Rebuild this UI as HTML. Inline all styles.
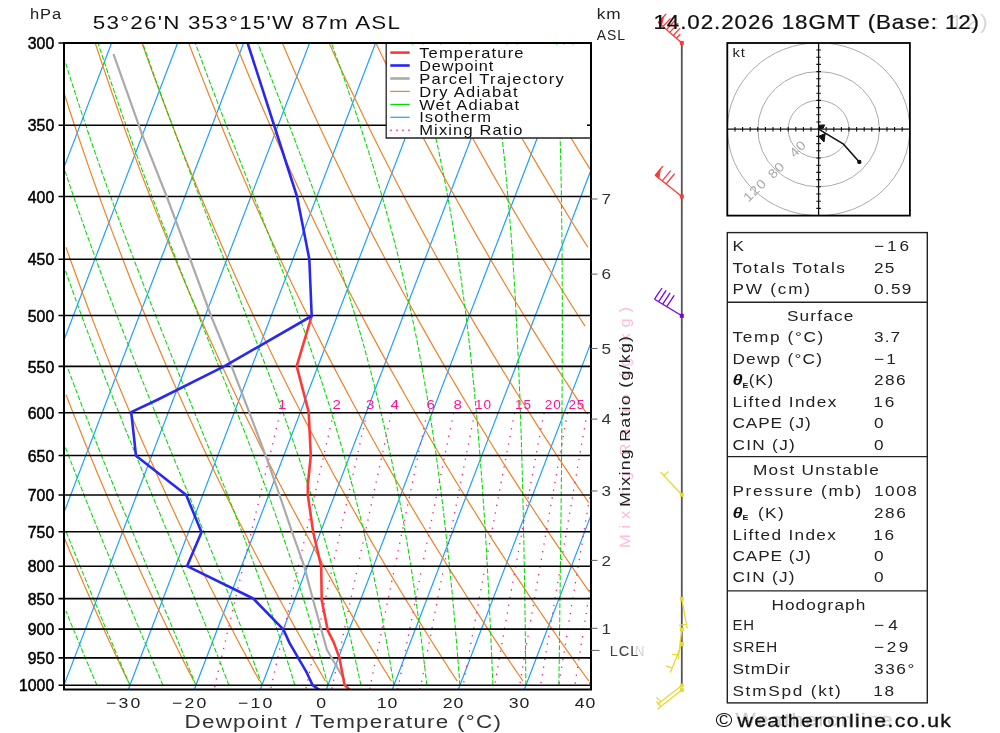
<!DOCTYPE html>
<html><head><meta charset="utf-8"><title>Skew-T</title>
<style>html,body{margin:0;padding:0;background:#fff}svg{display:block;will-change:transform}</style></head>
<body>
<svg width="1000" height="733" viewBox="0 0 1000 733" font-family="'Liberation Sans', sans-serif">
<rect width="1000" height="733" fill="#fff"/>
<defs><clipPath id="cp"><rect x="64.0" y="43.0" width="527.0" height="646.5"/></clipPath></defs>
<g clip-path="url(#cp)">
<polyline points="-135.7,689.5 111.6,43.0" fill="none" stroke="#1e9fff" stroke-width="1.2" />
<polyline points="-69.7,689.5 177.6,43.0" fill="none" stroke="#1e9fff" stroke-width="1.2" />
<polyline points="-3.7,689.5 243.6,43.0" fill="none" stroke="#1e9fff" stroke-width="1.2" />
<polyline points="62.3,689.5 309.6,43.0" fill="none" stroke="#1e9fff" stroke-width="1.2" />
<polyline points="128.3,689.5 375.6,43.0" fill="none" stroke="#1e9fff" stroke-width="1.2" />
<polyline points="194.3,689.5 441.6,43.0" fill="none" stroke="#1e9fff" stroke-width="1.2" />
<polyline points="260.3,689.5 507.6,43.0" fill="none" stroke="#1e9fff" stroke-width="1.2" />
<polyline points="326.3,689.5 573.6,43.0" fill="none" stroke="#1e9fff" stroke-width="1.2" />
<polyline points="392.3,689.5 639.6,43.0" fill="none" stroke="#1e9fff" stroke-width="1.2" />
<polyline points="458.3,689.5 705.6,43.0" fill="none" stroke="#1e9fff" stroke-width="1.2" />
<polyline points="524.3,689.5 771.6,43.0" fill="none" stroke="#1e9fff" stroke-width="1.2" />
<polyline points="590.3,689.5 837.6,43.0" fill="none" stroke="#1e9fff" stroke-width="1.2" />
<polyline points="127.9,681.0 127.4,679.9 124.8,674.5 122.2,669.1 119.6,663.5 117.0,657.9 114.4,652.3 111.8,646.6 109.1,640.8 106.4,635.0 103.8,629.1 101.1,623.1 98.4,617.1 95.7,611.0 92.9,604.8 90.2,598.6 87.4,592.3 84.6,585.9 81.9,579.4 79.0,572.9 76.2,566.3 73.4,559.5 70.5,552.7 67.7,545.9 64.8,538.9" fill="none" stroke="#f08228" stroke-width="1.2" />
<polyline points="193.7,681.0 193.2,679.9 190.4,674.5 187.6,669.1 184.8,663.5 182.0,657.9 179.2,652.3 176.4,646.6 173.5,640.8 170.7,635.0 167.8,629.1 164.9,623.1 162.0,617.1 159.1,611.0 156.1,604.8 153.2,598.6 150.2,592.3 147.2,585.9 144.2,579.4 141.2,572.9 138.1,566.3 135.1,559.5 132.0,552.7 128.9,545.9 125.8,538.9 122.6,531.8 119.5,524.7 116.3,517.4 113.1,510.0 109.9,502.6 106.7,495.0 103.4,487.3 100.1,479.6 96.8,471.7 93.5,463.6 90.1,455.5 86.8,447.2 83.4,438.8 80.0,430.3 76.5,421.6 73.0,412.8 69.5,403.8 66.0,394.7" fill="none" stroke="#f08228" stroke-width="1.2" />
<polyline points="259.6,681.0 259.0,679.9 256.0,674.5 253.1,669.1 250.1,663.5 247.1,657.9 244.1,652.3 241.0,646.6 238.0,640.8 234.9,635.0 231.9,629.1 228.8,623.1 225.6,617.1 222.5,611.0 219.4,604.8 216.2,598.6 213.0,592.3 209.8,585.9 206.6,579.4 203.3,572.9 200.1,566.3 196.8,559.5 193.5,552.7 190.1,545.9 186.8,538.9 183.4,531.8 180.0,524.7 176.6,517.4 173.2,510.0 169.7,502.6 166.3,495.0 162.8,487.3 159.2,479.6 155.7,471.7 152.1,463.6 148.5,455.5 144.9,447.2 141.2,438.8 137.5,430.3 133.8,421.6 130.1,412.8 126.3,403.8 122.5,394.7 118.7,385.4 114.8,376.0 110.9,366.4 107.0,356.6 103.1,346.6 99.1,336.4 95.1,326.1 91.0,315.5 86.9,304.7 82.8,293.7 78.7,282.5 74.5,271.0 70.2,259.3 66.0,247.3" fill="none" stroke="#f08228" stroke-width="1.2" />
<polyline points="325.4,681.0 324.8,679.9 321.6,674.5 318.5,669.1 315.3,663.5 312.1,657.9 308.9,652.3 305.7,646.6 302.4,640.8 299.2,635.0 295.9,629.1 292.6,623.1 289.3,617.1 285.9,611.0 282.6,604.8 279.2,598.6 275.8,592.3 272.4,585.9 268.9,579.4 265.5,572.9 262.0,566.3 258.5,559.5 254.9,552.7 251.4,545.9 247.8,538.9 244.2,531.8 240.6,524.7 236.9,517.4 233.3,510.0 229.6,502.6 225.9,495.0 222.1,487.3 218.3,479.6 214.5,471.7 210.7,463.6 206.8,455.5 202.9,447.2 199.0,438.8 195.1,430.3 191.1,421.6 187.1,412.8 183.1,403.8 179.0,394.7 174.9,385.4 170.7,376.0 166.6,366.4 162.4,356.6 158.1,346.6 153.8,336.4 149.5,326.1 145.2,315.5 140.8,304.7 136.3,293.7 131.8,282.5 127.3,271.0 122.8,259.3 118.2,247.3 113.5,235.1 108.8,222.5 104.1,209.6 99.3,196.5 94.4,183.0 89.5,169.1 84.6,154.9 79.6,140.3 74.5,125.2 69.4,109.8 64.3,93.8" fill="none" stroke="#f08228" stroke-width="1.2" />
<polyline points="391.3,681.0 390.6,679.9 387.3,674.5 383.9,669.1 380.5,663.5 377.2,657.9 373.8,652.3 370.3,646.6 366.9,640.8 363.4,635.0 359.9,629.1 356.4,623.1 352.9,617.1 349.4,611.0 345.8,604.8 342.2,598.6 338.6,592.3 334.9,585.9 331.3,579.4 327.6,572.9 323.9,566.3 320.2,559.5 316.4,552.7 312.6,545.9 308.8,538.9 305.0,531.8 301.2,524.7 297.3,517.4 293.4,510.0 289.4,502.6 285.5,495.0 281.5,487.3 277.4,479.6 273.4,471.7 269.3,463.6 265.2,455.5 261.0,447.2 256.9,438.8 252.7,430.3 248.4,421.6 244.1,412.8 239.8,403.8 235.5,394.7 231.1,385.4 226.7,376.0 222.2,366.4 217.7,356.6 213.2,346.6 208.6,336.4 204.0,326.1 199.3,315.5 194.6,304.7 189.8,293.7 185.0,282.5 180.2,271.0 175.3,259.3 170.3,247.3 165.4,235.1 160.3,222.5 155.2,209.6 150.1,196.5 144.9,183.0 139.6,169.1 134.3,154.9 128.9,140.3 123.4,125.2 117.9,109.8 112.3,93.8 106.7,77.4 101.0,60.5 95.2,43.0" fill="none" stroke="#f08228" stroke-width="1.2" />
<polyline points="457.1,681.0 456.4,679.9 452.9,674.5 449.3,669.1 445.8,663.5 442.2,657.9 438.6,652.3 435.0,646.6 431.3,640.8 427.7,635.0 424.0,629.1 420.3,623.1 416.5,617.1 412.8,611.0 409.0,604.8 405.2,598.6 401.4,592.3 397.5,585.9 393.6,579.4 389.7,572.9 385.8,566.3 381.9,559.5 377.9,552.7 373.9,545.9 369.9,538.9 365.8,531.8 361.7,524.7 357.6,517.4 353.4,510.0 349.3,502.6 345.1,495.0 340.8,487.3 336.5,479.6 332.2,471.7 327.9,463.6 323.5,455.5 319.1,447.2 314.7,438.8 310.2,430.3 305.7,421.6 301.2,412.8 296.6,403.8 291.9,394.7 287.3,385.4 282.6,376.0 277.8,366.4 273.0,356.6 268.2,346.6 263.3,336.4 258.4,326.1 253.4,315.5 248.4,304.7 243.3,293.7 238.2,282.5 233.0,271.0 227.8,259.3 222.5,247.3 217.2,235.1 211.8,222.5 206.4,209.6 200.8,196.5 195.3,183.0 189.6,169.1 183.9,154.9 178.2,140.3 172.3,125.2 166.4,109.8 160.4,93.8 154.3,77.4 148.2,60.5 142.0,43.0" fill="none" stroke="#f08228" stroke-width="1.2" />
<polyline points="523.0,681.0 522.2,679.9 518.5,674.5 514.8,669.1 511.0,663.5 507.2,657.9 503.4,652.3 499.6,646.6 495.8,640.8 491.9,635.0 488.0,629.1 484.1,623.1 480.2,617.1 476.2,611.0 472.2,604.8 468.2,598.6 464.2,592.3 460.1,585.9 456.0,579.4 451.9,572.9 447.7,566.3 443.6,559.5 439.4,552.7 435.1,545.9 430.9,538.9 426.6,531.8 422.3,524.7 417.9,517.4 413.5,510.0 409.1,502.6 404.7,495.0 400.2,487.3 395.7,479.6 391.1,471.7 386.5,463.6 381.9,455.5 377.2,447.2 372.5,438.8 367.8,430.3 363.0,421.6 358.2,412.8 353.3,403.8 348.4,394.7 343.5,385.4 338.5,376.0 333.5,366.4 328.4,356.6 323.2,346.6 318.1,336.4 312.8,326.1 307.6,315.5 302.2,304.7 296.8,293.7 291.4,282.5 285.9,271.0 280.3,259.3 274.7,247.3 269.0,235.1 263.3,222.5 257.5,209.6 251.6,196.5 245.7,183.0 239.7,169.1 233.6,154.9 227.4,140.3 221.2,125.2 214.9,109.8 208.5,93.8 202.0,77.4 195.4,60.5 188.7,43.0" fill="none" stroke="#f08228" stroke-width="1.2" />
<polyline points="588.8,681.0 588.0,679.9 584.1,674.5 580.2,669.1 576.2,663.5 572.3,657.9 568.3,652.3 564.3,646.6 560.2,640.8 556.1,635.0 552.1,629.1 547.9,623.1 543.8,617.1 539.6,611.0 535.4,604.8 531.2,598.6 527.0,592.3 522.7,585.9 518.4,579.4 514.0,572.9 509.7,566.3 505.3,559.5 500.8,552.7 496.4,545.9 491.9,538.9 487.4,531.8 482.8,524.7 478.2,517.4 473.6,510.0 468.9,502.6 464.3,495.0 459.5,487.3 454.8,479.6 450.0,471.7 445.1,463.6 440.2,455.5 435.3,447.2 430.4,438.8 425.4,430.3 420.3,421.6 415.2,412.8 410.1,403.8 404.9,394.7 399.7,385.4 394.4,376.0 389.1,366.4 383.7,356.6 378.3,346.6 372.8,336.4 367.3,326.1 361.7,315.5 356.0,304.7 350.3,293.7 344.6,282.5 338.8,271.0 332.9,259.3 326.9,247.3 320.9,235.1 314.8,222.5 308.6,209.6 302.4,196.5 296.1,183.0 289.7,169.1 283.3,154.9 276.7,140.3 270.1,125.2 263.4,109.8 256.5,93.8 249.6,77.4 242.6,60.5 235.5,43.0" fill="none" stroke="#f08228" stroke-width="1.2" />
<polyline points="589.7,592.3 585.2,585.9 580.7,579.4 576.2,572.9 571.6,566.3 567.0,559.5 562.3,552.7 557.6,545.9 552.9,538.9 548.2,531.8 543.4,524.7 538.5,517.4 533.7,510.0 528.8,502.6 523.9,495.0 518.9,487.3 513.9,479.6 508.8,471.7 503.7,463.6 498.6,455.5 493.4,447.2 488.2,438.8 482.9,430.3 477.6,421.6 472.2,412.8 466.8,403.8 461.4,394.7 455.9,385.4 450.3,376.0 444.7,366.4 439.0,356.6 433.3,346.6 427.5,336.4 421.7,326.1 415.8,315.5 409.9,304.7 403.8,293.7 397.8,282.5 391.6,271.0 385.4,259.3 379.1,247.3 372.7,235.1 366.3,222.5 359.8,209.6 353.2,196.5 346.5,183.0 339.8,169.1 332.9,154.9 326.0,140.3 319.0,125.2 311.8,109.8 304.6,93.8 297.3,77.4 289.8,60.5 282.3,43.0" fill="none" stroke="#f08228" stroke-width="1.2" />
<polyline points="588.6,502.6 583.5,495.0 578.2,487.3 573.0,479.6 567.7,471.7 562.3,463.6 556.9,455.5 551.5,447.2 546.0,438.8 540.5,430.3 534.9,421.6 529.3,412.8 523.6,403.8 517.9,394.7 512.1,385.4 506.2,376.0 500.3,366.4 494.4,356.6 488.4,346.6 482.3,336.4 476.1,326.1 469.9,315.5 463.7,304.7 457.3,293.7 450.9,282.5 444.5,271.0 437.9,259.3 431.3,247.3 424.6,235.1 417.8,222.5 410.9,209.6 404.0,196.5 396.9,183.0 389.8,169.1 382.6,154.9 375.3,140.3 367.8,125.2 360.3,109.8 352.7,93.8 344.9,77.4 337.0,60.5 329.1,43.0" fill="none" stroke="#f08228" stroke-width="1.2" />
<polyline points="586.3,412.8 580.3,403.8 574.3,394.7 568.3,385.4 562.1,376.0 556.0,366.4 549.7,356.6 543.4,346.6 537.0,336.4 530.6,326.1 524.1,315.5 517.5,304.7 510.8,293.7 504.1,282.5 497.3,271.0 490.4,259.3 483.5,247.3 476.4,235.1 469.3,222.5 462.1,209.6 454.8,196.5 447.4,183.0 439.9,169.1 432.3,154.9 424.5,140.3 416.7,125.2 408.8,109.8 400.7,93.8 392.6,77.4 384.3,60.5 375.8,43.0" fill="none" stroke="#f08228" stroke-width="1.2" />
<polyline points="585.0,326.1 578.2,315.5 571.3,304.7 564.4,293.7 557.3,282.5 550.2,271.0 543.0,259.3 535.7,247.3 528.3,235.1 520.8,222.5 513.2,209.6 505.6,196.5 497.8,183.0 489.9,169.1 481.9,154.9 473.8,140.3 465.6,125.2 457.3,109.8 448.8,93.8 440.2,77.4 431.5,60.5 422.6,43.0" fill="none" stroke="#f08228" stroke-width="1.2" />
<polyline points="587.9,247.3 580.1,235.1 572.3,222.5 564.4,209.6 556.3,196.5 548.2,183.0 539.9,169.1 531.6,154.9 523.1,140.3 514.5,125.2 505.7,109.8 496.9,93.8 487.9,77.4 478.7,60.5 469.4,43.0" fill="none" stroke="#f08228" stroke-width="1.2" />
<polyline points="590.0,169.1 581.2,154.9 572.4,140.3 563.4,125.2 554.2,109.8 544.9,93.8 535.5,77.4 525.9,60.5 516.2,43.0" fill="none" stroke="#f08228" stroke-width="1.2" />
<polyline points="583.1,77.4 573.1,60.5 562.9,43.0" fill="none" stroke="#f08228" stroke-width="1.2" />
<polyline points="96.9,685.3 94.6,679.9 92.3,674.5 90.0,669.1 87.7,663.5 85.3,657.9 83.0,652.3 80.6,646.6 78.2,640.8 75.8,635.0 73.3,629.1 70.8,623.1 68.4,617.1 65.9,611.0" fill="none" stroke="#00dc00" stroke-width="1.05" stroke-dasharray="5 2"/>
<polyline points="129.9,685.3 127.6,679.9 125.3,674.5 123.0,669.1 120.7,663.5 118.3,657.9 115.9,652.3 113.5,646.6 111.1,640.8 108.6,635.0 106.1,629.1 103.6,623.1 101.1,617.1 98.6,611.0 96.0,604.8 93.4,598.6 90.8,592.3 88.1,585.9 85.5,579.4 82.8,572.9 80.1,566.3 77.4,559.5 74.6,552.7 71.8,545.9 69.0,538.9 66.2,531.8" fill="none" stroke="#00dc00" stroke-width="1.05" stroke-dasharray="5 2"/>
<polyline points="162.9,685.3 160.7,679.9 158.4,674.5 156.1,669.1 153.8,663.5 151.4,657.9 149.1,652.3 146.7,646.6 144.3,640.8 141.8,635.0 139.3,629.1 136.8,623.1 134.3,617.1 131.7,611.0 129.1,604.8 126.5,598.6 123.9,592.3 121.2,585.9 118.5,579.4 115.8,572.9 113.0,566.3 110.3,559.5 107.5,552.7 104.6,545.9 101.8,538.9 98.9,531.8 96.0,524.7 93.0,517.4 90.0,510.0 87.0,502.6 84.0,495.0 81.0,487.3 77.9,479.6 74.8,471.7 71.6,463.6 68.5,455.5 65.3,447.2" fill="none" stroke="#00dc00" stroke-width="1.05" stroke-dasharray="5 2"/>
<polyline points="195.9,685.3 193.7,679.9 191.6,674.5 189.3,669.1 187.1,663.5 184.8,657.9 182.5,652.3 180.2,646.6 177.8,640.8 175.4,635.0 172.9,629.1 170.5,623.1 168.0,617.1 165.4,611.0 162.9,604.8 160.3,598.6 157.6,592.3 155.0,585.9 152.3,579.4 149.6,572.9 146.8,566.3 144.0,559.5 141.2,552.7 138.3,545.9 135.4,538.9 132.5,531.8 129.5,524.7 126.6,517.4 123.5,510.0 120.5,502.6 117.4,495.0 114.3,487.3 111.1,479.6 107.9,471.7 104.7,463.6 101.4,455.5 98.2,447.2 94.8,438.8 91.5,430.3 88.1,421.6 84.7,412.8 81.2,403.8 77.8,394.7 74.2,385.4 70.7,376.0 67.1,366.4" fill="none" stroke="#00dc00" stroke-width="1.05" stroke-dasharray="5 2"/>
<polyline points="228.9,685.3 226.9,679.9 224.8,674.5 222.7,669.1 220.6,663.5 218.4,657.9 216.2,652.3 214.0,646.6 211.7,640.8 209.4,635.0 207.1,629.1 204.7,623.1 202.3,617.1 199.8,611.0 197.3,604.8 194.8,598.6 192.2,592.3 189.6,585.9 187.0,579.4 184.3,572.9 181.6,566.3 178.8,559.5 176.0,552.7 173.2,545.9 170.3,538.9 167.4,531.8 164.4,524.7 161.4,517.4 158.4,510.0 155.3,502.6 152.2,495.0 149.1,487.3 145.9,479.6 142.6,471.7 139.3,463.6 136.0,455.5 132.7,447.2 129.3,438.8 125.8,430.3 122.4,421.6 118.9,412.8 115.3,403.8 111.7,394.7 108.1,385.4 104.4,376.0 100.7,366.4 96.9,356.6 93.2,346.6 89.3,336.4 85.4,326.1 81.5,315.5 77.6,304.7 73.6,293.7 69.6,282.5 65.5,271.0" fill="none" stroke="#00dc00" stroke-width="1.05" stroke-dasharray="5 2"/>
<polyline points="261.9,685.3 260.1,679.9 258.2,674.5 256.2,669.1 254.3,663.5 252.3,657.9 250.3,652.3 248.2,646.6 246.1,640.8 243.9,635.0 241.7,629.1 239.5,623.1 237.2,617.1 234.9,611.0 232.6,604.8 230.2,598.6 227.8,592.3 225.3,585.9 222.7,579.4 220.2,572.9 217.6,566.3 214.9,559.5 212.2,552.7 209.4,545.9 206.6,538.9 203.8,531.8 200.9,524.7 198.0,517.4 195.0,510.0 191.9,502.6 188.8,495.0 185.7,487.3 182.5,479.6 179.3,471.7 176.0,463.6 172.7,455.5 169.3,447.2 165.9,438.8 162.4,430.3 158.9,421.6 155.3,412.8 151.7,403.8 148.0,394.7 144.3,385.4 140.5,376.0 136.7,366.4 132.9,356.6 128.9,346.6 125.0,336.4 121.0,326.1 116.9,315.5 112.8,304.7 108.6,293.7 104.4,282.5 100.2,271.0 95.9,259.3 91.5,247.3 87.1,235.1 82.7,222.5 78.2,209.6 73.6,196.5 69.0,183.0 64.4,169.1" fill="none" stroke="#00dc00" stroke-width="1.05" stroke-dasharray="5 2"/>
<polyline points="294.9,685.3 293.3,679.9 291.6,674.5 289.9,669.1 288.2,663.5 286.4,657.9 284.6,652.3 282.7,646.6 280.8,640.8 278.9,635.0 276.9,629.1 274.9,623.1 272.9,617.1 270.8,611.0 268.6,604.8 266.4,598.6 264.2,592.3 261.9,585.9 259.6,579.4 257.2,572.9 254.8,566.3 252.3,559.5 249.8,552.7 247.2,545.9 244.5,538.9 241.9,531.8 239.1,524.7 236.3,517.4 233.5,510.0 230.5,502.6 227.6,495.0 224.5,487.3 221.5,479.6 218.3,471.7 215.1,463.6 211.8,455.5 208.5,447.2 205.1,438.8 201.7,430.3 198.2,421.6 194.6,412.8 191.0,403.8 187.3,394.7 183.5,385.4 179.7,376.0 175.9,366.4 171.9,356.6 167.9,346.6 163.9,336.4 159.8,326.1 155.6,315.5 151.4,304.7 147.1,293.7 142.7,282.5 138.3,271.0 133.8,259.3 129.3,247.3 124.7,235.1 120.0,222.5 115.3,209.6 110.6,196.5 105.7,183.0 100.8,169.1 95.9,154.9 90.8,140.3 85.8,125.2 80.6,109.8 75.4,93.8 70.1,77.4 64.8,60.5" fill="none" stroke="#00dc00" stroke-width="1.05" stroke-dasharray="5 2"/>
<polyline points="327.9,685.3 326.5,679.9 325.1,674.5 323.6,669.1 322.2,663.5 320.6,657.9 319.1,652.3 317.5,646.6 315.9,640.8 314.2,635.0 312.5,629.1 310.8,623.1 309.0,617.1 307.2,611.0 305.3,604.8 303.4,598.6 301.4,592.3 299.4,585.9 297.4,579.4 295.3,572.9 293.1,566.3 290.9,559.5 288.6,552.7 286.3,545.9 283.9,538.9 281.5,531.8 279.0,524.7 276.5,517.4 273.9,510.0 271.2,502.6 268.4,495.0 265.6,487.3 262.7,479.6 259.8,471.7 256.8,463.6 253.7,455.5 250.5,447.2 247.3,438.8 244.0,430.3 240.6,421.6 237.2,412.8 233.7,403.8 230.1,394.7 226.4,385.4 222.6,376.0 218.8,366.4 214.9,356.6 210.9,346.6 206.8,336.4 202.7,326.1 198.5,315.5 194.2,304.7 189.8,293.7 185.3,282.5 180.8,271.0 176.2,259.3 171.5,247.3 166.8,235.1 161.9,222.5 157.0,209.6 152.0,196.5 147.0,183.0 141.8,169.1 136.6,154.9 131.3,140.3 126.0,125.2 120.5,109.8 115.0,93.8 109.4,77.4 103.8,60.5 98.0,43.0" fill="none" stroke="#00dc00" stroke-width="1.05" stroke-dasharray="5 2"/>
<polyline points="360.9,685.3 359.8,679.9 358.6,674.5 357.4,669.1 356.2,663.5 355.0,657.9 353.7,652.3 352.4,646.6 351.1,640.8 349.7,635.0 348.4,629.1 346.9,623.1 345.5,617.1 343.9,611.0 342.4,604.8 340.8,598.6 339.2,592.3 337.5,585.9 335.8,579.4 334.0,572.9 332.2,566.3 330.4,559.5 328.5,552.7 326.5,545.9 324.5,538.9 322.4,531.8 320.3,524.7 318.1,517.4 315.8,510.0 313.5,502.6 311.1,495.0 308.6,487.3 306.1,479.6 303.5,471.7 300.8,463.6 298.1,455.5 295.2,447.2 292.3,438.8 289.3,430.3 286.2,421.6 283.1,412.8 279.8,403.8 276.5,394.7 273.0,385.4 269.5,376.0 265.9,366.4 262.1,356.6 258.3,346.6 254.4,336.4 250.4,326.1 246.2,315.5 242.0,304.7 237.7,293.7 233.3,282.5 228.7,271.0 224.1,259.3 219.4,247.3 214.5,235.1 209.6,222.5 204.6,209.6 199.4,196.5 194.2,183.0 188.9,169.1 183.4,154.9 177.9,140.3 172.3,125.2 166.5,109.8 160.7,93.8 154.8,77.4 148.8,60.5 142.6,43.0" fill="none" stroke="#00dc00" stroke-width="1.05" stroke-dasharray="5 2"/>
<polyline points="393.9,685.3 393.0,679.9 392.2,674.5 391.2,669.1 390.3,663.5 389.4,657.9 388.4,652.3 387.4,646.6 386.4,640.8 385.3,635.0 384.2,629.1 383.1,623.1 382.0,617.1 380.8,611.0 379.6,604.8 378.4,598.6 377.1,592.3 375.8,585.9 374.4,579.4 373.1,572.9 371.6,566.3 370.2,559.5 368.7,552.7 367.1,545.9 365.5,538.9 363.9,531.8 362.2,524.7 360.4,517.4 358.6,510.0 356.7,502.6 354.8,495.0 352.8,487.3 350.7,479.6 348.6,471.7 346.4,463.6 344.1,455.5 341.8,447.2 339.3,438.8 336.8,430.3 334.2,421.6 331.5,412.8 328.8,403.8 325.9,394.7 322.9,385.4 319.8,376.0 316.6,366.4 313.3,356.6 309.9,346.6 306.4,336.4 302.7,326.1 298.9,315.5 295.0,304.7 291.0,293.7 286.8,282.5 282.6,271.0 278.1,259.3 273.6,247.3 268.9,235.1 264.0,222.5 259.1,209.6 253.9,196.5 248.7,183.0 243.3,169.1 237.8,154.9 232.1,140.3 226.3,125.2 220.3,109.8 214.3,93.8 208.0,77.4 201.7,60.5 195.2,43.0" fill="none" stroke="#00dc00" stroke-width="1.05" stroke-dasharray="5 2"/>
<polyline points="426.9,685.3 426.3,679.9 425.6,674.5 425.0,669.1 424.3,663.5 423.6,657.9 422.9,652.3 422.2,646.6 421.5,640.8 420.7,635.0 419.9,629.1 419.1,623.1 418.3,617.1 417.5,611.0 416.6,604.8 415.7,598.6 414.8,592.3 413.9,585.9 412.9,579.4 411.9,572.9 410.9,566.3 409.8,559.5 408.7,552.7 407.6,545.9 406.4,538.9 405.2,531.8 404.0,524.7 402.7,517.4 401.3,510.0 400.0,502.6 398.5,495.0 397.1,487.3 395.5,479.6 393.9,471.7 392.3,463.6 390.6,455.5 388.8,447.2 387.0,438.8 385.1,430.3 383.1,421.6 381.0,412.8 378.9,403.8 376.7,394.7 374.3,385.4 371.9,376.0 369.4,366.4 366.8,356.6 364.0,346.6 361.2,336.4 358.2,326.1 355.1,315.5 351.8,304.7 348.5,293.7 344.9,282.5 341.3,271.0 337.4,259.3 333.4,247.3 329.3,235.1 324.9,222.5 320.4,209.6 315.7,196.5 310.8,183.0 305.7,169.1 300.4,154.9 294.9,140.3 289.2,125.2 283.4,109.8 277.3,93.8 271.0,77.4 264.5,60.5 257.8,43.0" fill="none" stroke="#00dc00" stroke-width="1.05" stroke-dasharray="5 2"/>
<polyline points="459.9,685.3 459.5,679.9 459.1,674.5 458.7,669.1 458.2,663.5 457.8,657.9 457.3,652.3 456.9,646.6 456.4,640.8 455.9,635.0 455.4,629.1 454.9,623.1 454.3,617.1 453.8,611.0 453.2,604.8 452.7,598.6 452.1,592.3 451.4,585.9 450.8,579.4 450.2,572.9 449.5,566.3 448.8,559.5 448.1,552.7 447.3,545.9 446.6,538.9 445.8,531.8 445.0,524.7 444.1,517.4 443.3,510.0 442.4,502.6 441.4,495.0 440.4,487.3 439.4,479.6 438.4,471.7 437.3,463.6 436.2,455.5 435.0,447.2 433.7,438.8 432.5,430.3 431.1,421.6 429.7,412.8 428.3,403.8 426.8,394.7 425.2,385.4 423.5,376.0 421.8,366.4 420.0,356.6 418.1,346.6 416.1,336.4 414.0,326.1 411.8,315.5 409.4,304.7 407.0,293.7 404.4,282.5 401.7,271.0 398.9,259.3 395.9,247.3 392.7,235.1 389.3,222.5 385.8,209.6 382.1,196.5 378.1,183.0 374.0,169.1 369.6,154.9 364.9,140.3 360.0,125.2 354.9,109.8 349.4,93.8 343.7,77.4 337.7,60.5 331.4,43.0" fill="none" stroke="#00dc00" stroke-width="1.05" stroke-dasharray="5 2"/>
<polyline points="492.9,685.3 492.7,679.9 492.5,674.5 492.2,669.1 492.0,663.5 491.8,657.9 491.5,652.3 491.3,646.6 491.0,640.8 490.8,635.0 490.5,629.1 490.2,623.1 489.9,617.1 489.6,611.0 489.3,604.8 489.0,598.6 488.7,592.3 488.4,585.9 488.0,579.4 487.7,572.9 487.3,566.3 486.9,559.5 486.6,552.7 486.2,545.9 485.7,538.9 485.3,531.8 484.9,524.7 484.4,517.4 483.9,510.0 483.4,502.6 482.9,495.0 482.4,487.3 481.8,479.6 481.2,471.7 480.6,463.6 480.0,455.5 479.3,447.2 478.6,438.8 477.9,430.3 477.2,421.6 476.4,412.8 475.5,403.8 474.7,394.7 473.8,385.4 472.8,376.0 471.8,366.4 470.8,356.6 469.7,346.6 468.5,336.4 467.3,326.1 466.0,315.5 464.6,304.7 463.1,293.7 461.6,282.5 460.0,271.0 458.2,259.3 456.4,247.3 454.4,235.1 452.3,222.5 450.1,209.6 447.7,196.5 445.2,183.0 442.4,169.1 439.5,154.9 436.4,140.3 433.0,125.2 429.4,109.8 425.5,93.8 421.3,77.4 416.8,60.5 412.0,43.0" fill="none" stroke="#00dc00" stroke-width="1.05" stroke-dasharray="5 2"/>
<polyline points="525.9,685.3 525.8,679.9 525.8,674.5 525.7,669.1 525.7,663.5 525.6,657.9 525.5,652.3 525.5,646.6 525.4,640.8 525.3,635.0 525.2,629.1 525.2,623.1 525.1,617.1 525.0,611.0 524.9,604.8 524.8,598.6 524.7,592.3 524.6,585.9 524.5,579.4 524.4,572.9 524.3,566.3 524.2,559.5 524.0,552.7 523.9,545.9 523.8,538.9 523.6,531.8 523.5,524.7 523.3,517.4 523.2,510.0 523.0,502.6 522.8,495.0 522.6,487.3 522.4,479.6 522.2,471.7 522.0,463.6 521.8,455.5 521.5,447.2 521.3,438.8 521.0,430.3 520.7,421.6 520.4,412.8 520.1,403.8 519.8,394.7 519.4,385.4 519.0,376.0 518.6,366.4 518.2,356.6 517.7,346.6 517.2,336.4 516.7,326.1 516.2,315.5 515.6,304.7 515.0,293.7 514.3,282.5 513.6,271.0 512.8,259.3 512.0,247.3 511.1,235.1 510.1,222.5 509.0,209.6 507.9,196.5 506.7,183.0 505.4,169.1 504.0,154.9 502.4,140.3 500.7,125.2 498.9,109.8 496.8,93.8 494.6,77.4 492.2,60.5 489.5,43.0" fill="none" stroke="#00dc00" stroke-width="1.05" stroke-dasharray="5 2"/>
<polyline points="558.9,685.3 559.0,679.9 559.0,674.5 559.1,669.1 559.2,663.5 559.3,657.9 559.3,652.3 559.4,646.6 559.5,640.8 559.5,635.0 559.6,629.1 559.7,623.1 559.8,617.1 559.8,611.0 559.9,604.8 560.0,598.6 560.1,592.3 560.2,585.9 560.2,579.4 560.3,572.9 560.4,566.3 560.5,559.5 560.6,552.7 560.7,545.9 560.7,538.9 560.8,531.8 560.9,524.7 561.0,517.4 561.1,510.0 561.1,502.6 561.2,495.0 561.3,487.3 561.4,479.6 561.5,471.7 561.5,463.6 561.6,455.5 561.7,447.2 561.8,438.8 561.8,430.3 561.9,421.6 562.0,412.8 562.0,403.8 562.1,394.7 562.1,385.4 562.2,376.0 562.2,366.4 562.2,356.6 562.3,346.6 562.3,336.4 562.3,326.1 562.3,315.5 562.3,304.7 562.3,293.7 562.2,282.5 562.2,271.0 562.1,259.3 562.0,247.3 561.9,235.1 561.7,222.5 561.6,209.6 561.4,196.5 561.2,183.0 560.9,169.1 560.6,154.9 560.2,140.3 559.8,125.2 559.3,109.8 558.8,93.8 558.2,77.4 557.5,60.5 556.6,43.0" fill="none" stroke="#00dc00" stroke-width="1.05" stroke-dasharray="5 2"/>
<polyline points="280.1,412.8 278.0,421.6 275.9,430.3 273.8,438.8 271.8,447.2 269.8,455.5 267.8,463.6 265.9,471.7 264.0,479.6 262.1,487.3 260.2,495.0 258.4,502.6 256.6,510.0 254.9,517.4 253.1,524.7 251.4,531.8 249.7,538.9 248.0,545.9 246.4,552.7 244.8,559.5 243.2,566.3 241.6,572.9 240.0,579.4 238.5,585.9 237.0,592.3 235.5,598.6 234.0,604.8 232.5,611.0 231.1,617.1 229.7,623.1 228.2,629.1 226.8,635.0 225.5,640.8 224.1,646.6 222.8,652.3 221.4,657.9 220.1,663.5 218.8,669.1 217.5,674.5 216.2,679.9 215.0,685.3 214.0,689.5" fill="none" stroke="#ff1493" stroke-width="1.3" stroke-dasharray="1.3 6.5"/>
<polyline points="333.7,412.8 331.6,421.6 329.6,430.3 327.7,438.8 325.7,447.2 323.8,455.5 321.9,463.6 320.1,471.7 318.3,479.6 316.5,487.3 314.7,495.0 313.0,502.6 311.2,510.0 309.6,517.4 307.9,524.7 306.3,531.8 304.6,538.9 303.1,545.9 301.5,552.7 299.9,559.5 298.4,566.3 296.9,572.9 295.4,579.4 293.9,585.9 292.5,592.3 291.1,598.6 289.6,604.8 288.3,611.0 286.9,617.1 285.5,623.1 284.2,629.1 282.8,635.0 281.5,640.8 280.2,646.6 278.9,652.3 277.7,657.9 276.4,663.5 275.2,669.1 274.0,674.5 272.7,679.9 271.5,685.3 270.6,689.5" fill="none" stroke="#ff1493" stroke-width="1.3" stroke-dasharray="1.3 6.5"/>
<polyline points="366.9,412.8 364.9,421.6 363.0,430.3 361.0,438.8 359.2,447.2 357.3,455.5 355.5,463.6 353.7,471.7 351.9,479.6 350.2,487.3 348.5,495.0 346.8,502.6 345.1,510.0 343.5,517.4 341.9,524.7 340.3,531.8 338.7,538.9 337.2,545.9 335.6,552.7 334.1,559.5 332.7,566.3 331.2,572.9 329.8,579.4 328.3,585.9 326.9,592.3 325.6,598.6 324.2,604.8 322.8,611.0 321.5,617.1 320.2,623.1 318.9,629.1 317.6,635.0 316.3,640.8 315.1,646.6 313.8,652.3 312.6,657.9 311.4,663.5 310.2,669.1 309.0,674.5 307.8,679.9 306.7,685.3 305.7,689.5" fill="none" stroke="#ff1493" stroke-width="1.3" stroke-dasharray="1.3 6.5"/>
<polyline points="391.4,412.8 389.4,421.6 387.5,430.3 385.6,438.8 383.8,447.2 382.0,455.5 380.2,463.6 378.4,471.7 376.7,479.6 375.0,487.3 373.3,495.0 371.7,502.6 370.1,510.0 368.5,517.4 366.9,524.7 365.4,531.8 363.8,538.9 362.3,545.9 360.8,552.7 359.4,559.5 357.9,566.3 356.5,572.9 355.1,579.4 353.7,585.9 352.3,592.3 351.0,598.6 349.6,604.8 348.3,611.0 347.0,617.1 345.7,623.1 344.5,629.1 343.2,635.0 342.0,640.8 340.7,646.6 339.5,652.3 338.3,657.9 337.1,663.5 336.0,669.1 334.8,674.5 333.7,679.9 332.5,685.3 331.7,689.5" fill="none" stroke="#ff1493" stroke-width="1.3" stroke-dasharray="1.3 6.5"/>
<polyline points="427.2,412.8 425.3,421.6 423.5,430.3 421.7,438.8 419.9,447.2 418.1,455.5 416.4,463.6 414.7,471.7 413.1,479.6 411.4,487.3 409.8,495.0 408.2,502.6 406.6,510.0 405.1,517.4 403.6,524.7 402.1,531.8 400.6,538.9 399.2,545.9 397.7,552.7 396.3,559.5 394.9,566.3 393.6,572.9 392.2,579.4 390.9,585.9 389.5,592.3 388.2,598.6 387.0,604.8 385.7,611.0 384.4,617.1 383.2,623.1 382.0,629.1 380.8,635.0 379.6,640.8 378.4,646.6 377.2,652.3 376.1,657.9 374.9,663.5 373.8,669.1 372.7,674.5 371.6,679.9 370.5,685.3 369.7,689.5" fill="none" stroke="#ff1493" stroke-width="1.3" stroke-dasharray="1.3 6.5"/>
<polyline points="453.6,412.8 451.8,421.6 450.0,430.3 448.2,438.8 446.5,447.2 444.8,455.5 443.1,463.6 441.5,471.7 439.9,479.6 438.3,487.3 436.7,495.0 435.2,502.6 433.6,510.0 432.1,517.4 430.7,524.7 429.2,531.8 427.8,538.9 426.4,545.9 425.0,552.7 423.6,559.5 422.3,566.3 420.9,572.9 419.6,579.4 418.3,585.9 417.0,592.3 415.8,598.6 414.5,604.8 413.3,611.0 412.1,617.1 410.9,623.1 409.7,629.1 408.5,635.0 407.3,640.8 406.2,646.6 405.1,652.3 403.9,657.9 402.8,663.5 401.8,669.1 400.7,674.5 399.6,679.9 398.5,685.3 397.7,689.5" fill="none" stroke="#ff1493" stroke-width="1.3" stroke-dasharray="1.3 6.5"/>
<polyline points="474.7,412.8 473.0,421.6 471.2,430.3 469.5,438.8 467.8,447.2 466.1,455.5 464.5,463.6 462.9,471.7 461.3,479.6 459.7,487.3 458.2,495.0 456.7,502.6 455.2,510.0 453.7,517.4 452.3,524.7 450.9,531.8 449.5,538.9 448.1,545.9 446.7,552.7 445.4,559.5 444.1,566.3 442.8,572.9 441.5,579.4 440.2,585.9 439.0,592.3 437.7,598.6 436.5,604.8 435.3,611.0 434.1,617.1 433.0,623.1 431.8,629.1 430.7,635.0 429.5,640.8 428.4,646.6 427.3,652.3 426.2,657.9 425.1,663.5 424.1,669.1 423.0,674.5 422.0,679.9 421.0,685.3 420.2,689.5" fill="none" stroke="#ff1493" stroke-width="1.3" stroke-dasharray="1.3 6.5"/>
<polyline points="514.5,412.8 512.8,421.6 511.2,430.3 509.5,438.8 507.9,447.2 506.3,455.5 504.7,463.6 503.2,471.7 501.7,479.6 500.2,487.3 498.7,495.0 497.3,502.6 495.9,510.0 494.5,517.4 493.1,524.7 491.7,531.8 490.4,538.9 489.1,545.9 487.8,552.7 486.5,559.5 485.3,566.3 484.0,572.9 482.8,579.4 481.6,585.9 480.4,592.3 479.2,598.6 478.1,604.8 476.9,611.0 475.8,617.1 474.7,623.1 473.6,629.1 472.5,635.0 471.4,640.8 470.3,646.6 469.3,652.3 468.3,657.9 467.2,663.5 466.2,669.1 465.2,674.5 464.2,679.9 463.3,685.3 462.5,689.5" fill="none" stroke="#ff1493" stroke-width="1.3" stroke-dasharray="1.3 6.5"/>
<polyline points="544.0,412.8 542.3,421.6 540.7,430.3 539.1,438.8 537.5,447.2 536.0,455.5 534.5,463.6 533.0,471.7 531.5,479.6 530.1,487.3 528.7,495.0 527.3,502.6 525.9,510.0 524.6,517.4 523.3,524.7 522.0,531.8 520.7,538.9 519.4,545.9 518.2,552.7 516.9,559.5 515.7,566.3 514.5,572.9 513.3,579.4 512.2,585.9 511.0,592.3 509.9,598.6 508.8,604.8 507.7,611.0 506.6,617.1 505.5,623.1 504.5,629.1 503.4,635.0 502.4,640.8 501.4,646.6 500.4,652.3 499.4,657.9 498.4,663.5 497.4,669.1 496.5,674.5 495.5,679.9 494.6,685.3 493.8,689.5" fill="none" stroke="#ff1493" stroke-width="1.3" stroke-dasharray="1.3 6.5"/>
<polyline points="567.5,412.8 565.9,421.6 564.3,430.3 562.8,438.8 561.3,447.2 559.8,455.5 558.3,463.6 556.9,471.7 555.4,479.6 554.1,487.3 552.7,495.0 551.3,502.6 550.0,510.0 548.7,517.4 547.4,524.7 546.2,531.8 544.9,538.9 543.7,545.9 542.5,552.7 541.3,559.5 540.1,566.3 538.9,572.9 537.8,579.4 536.7,585.9 535.6,592.3 534.5,598.6 533.4,604.8 532.3,611.0 531.3,617.1 530.2,623.1 529.2,629.1 528.2,635.0 527.2,640.8 526.2,646.6 525.2,652.3 524.3,657.9 523.3,663.5 522.4,669.1 521.5,674.5 520.6,679.9 519.6,685.3 518.9,689.5" fill="none" stroke="#ff1493" stroke-width="1.3" stroke-dasharray="1.3 6.5"/>
<polyline points="587.2,412.8 585.6,421.6 584.1,430.3 582.6,438.8 581.1,447.2 579.7,455.5 578.2,463.6 576.8,471.7 575.5,479.6 574.1,487.3 572.8,495.0 571.5,502.6 570.2,510.0 568.9,517.4 567.7,524.7 566.4,531.8 565.2,538.9 564.0,545.9 562.8,552.7 561.7,559.5 560.5,566.3 559.4,572.9 558.3,579.4 557.2,585.9 556.1,592.3 555.1,598.6 554.0,604.8 553.0,611.0 552.0,617.1 551.0,623.1 550.0,629.1 549.0,635.0 548.0,640.8 547.0,646.6 546.1,652.3 545.2,657.9 544.2,663.5 543.3,669.1 542.4,674.5 541.5,679.9 540.7,685.3 540.0,689.5" fill="none" stroke="#ff1493" stroke-width="1.3" stroke-dasharray="1.3 6.5"/>
<polyline points="604.2,412.8 602.7,421.6 601.2,430.3 599.7,438.8 598.3,447.2 596.9,455.5 595.5,463.6 594.1,471.7 592.8,479.6 591.4,487.3 590.1,495.0 588.8,502.6 587.6,510.0 586.3,517.4 585.1,524.7 583.9,531.8 582.7,538.9 581.6,545.9 580.4,552.7 579.3,559.5 578.2,566.3 577.1,572.9 576.0,579.4 574.9,585.9 573.9,592.3 572.8,598.6 571.8,604.8 570.8,611.0 569.8,617.1 568.8,623.1 567.9,629.1 566.9,635.0 566.0,640.8 565.0,646.6 564.1,652.3 563.2,657.9 562.3,663.5 561.4,669.1 560.5,674.5 559.7,679.9 558.8,685.3 558.1,689.5" fill="none" stroke="#ff1493" stroke-width="1.3" stroke-dasharray="1.3 6.5"/>
<polyline points="619.2,412.8 617.7,421.6 616.3,430.3 614.8,438.8 613.4,447.2 612.0,455.5 610.7,463.6 609.3,471.7 608.0,479.6 606.7,487.3 605.4,495.0 604.2,502.6 602.9,510.0 601.7,517.4 600.5,524.7 599.4,531.8 598.2,538.9 597.1,545.9 595.9,552.7 594.8,559.5 593.8,566.3 592.7,572.9 591.6,579.4 590.6,585.9 589.6,592.3 588.5,598.6 587.5,604.8 586.6,611.0 585.6,617.1 584.6,623.1 583.7,629.1 582.7,635.0 581.8,640.8 580.9,646.6 580.0,652.3 579.1,657.9 578.2,663.5 577.4,669.1 576.5,674.5 575.7,679.9 574.8,685.3 574.2,689.5" fill="none" stroke="#ff1493" stroke-width="1.3" stroke-dasharray="1.3 6.5"/>
<polyline points="632.7,412.8 631.2,421.6 629.8,430.3 628.4,438.8 627.0,447.2 625.6,455.5 624.3,463.6 623.0,471.7 621.7,479.6 620.4,487.3 619.2,495.0 617.9,502.6 616.7,510.0 615.5,517.4 614.4,524.7 613.2,531.8 612.1,538.9 611.0,545.9 609.9,552.7 608.8,559.5 607.7,566.3 606.7,572.9 605.6,579.4 604.6,585.9 603.6,592.3 602.6,598.6 601.6,604.8 600.7,611.0 599.7,617.1 598.8,623.1 597.8,629.1 596.9,635.0 596.0,640.8 595.1,646.6 594.3,652.3 593.4,657.9 592.5,663.5 591.7,669.1 590.9,674.5 590.0,679.9 589.2,685.3 588.6,689.5" fill="none" stroke="#ff1493" stroke-width="1.3" stroke-dasharray="1.3 6.5"/>
</g>
<line x1="58.5" y1="43.0" x2="591.0" y2="43.0" stroke="#000" stroke-width="1.6"/>
<line x1="58.5" y1="125.2" x2="591.0" y2="125.2" stroke="#000" stroke-width="1.6"/>
<line x1="58.5" y1="196.5" x2="591.0" y2="196.5" stroke="#000" stroke-width="1.6"/>
<line x1="58.5" y1="259.3" x2="591.0" y2="259.3" stroke="#000" stroke-width="1.6"/>
<line x1="58.5" y1="315.5" x2="591.0" y2="315.5" stroke="#000" stroke-width="1.6"/>
<line x1="58.5" y1="366.4" x2="591.0" y2="366.4" stroke="#000" stroke-width="1.6"/>
<line x1="58.5" y1="412.8" x2="591.0" y2="412.8" stroke="#000" stroke-width="1.6"/>
<line x1="58.5" y1="455.5" x2="591.0" y2="455.5" stroke="#000" stroke-width="1.6"/>
<line x1="58.5" y1="495.0" x2="591.0" y2="495.0" stroke="#000" stroke-width="1.6"/>
<line x1="58.5" y1="531.8" x2="591.0" y2="531.8" stroke="#000" stroke-width="1.6"/>
<line x1="58.5" y1="566.3" x2="591.0" y2="566.3" stroke="#000" stroke-width="1.6"/>
<line x1="58.5" y1="598.6" x2="591.0" y2="598.6" stroke="#000" stroke-width="1.6"/>
<line x1="58.5" y1="629.1" x2="591.0" y2="629.1" stroke="#000" stroke-width="1.6"/>
<line x1="58.5" y1="657.9" x2="591.0" y2="657.9" stroke="#000" stroke-width="1.6"/>
<line x1="58.5" y1="685.3" x2="591.0" y2="685.3" stroke="#000" stroke-width="1.6"/>
<g clip-path="url(#cp)">
<polyline points="344.6,680.3 326.9,649.7 312.6,598.2 304.2,566.1 292.1,532.2 279.5,495.0 265.7,455.7 249.2,412.1 231.5,366.1 211.1,316.0 190.1,259.0 166.7,196.5 141.9,133.9 113.5,54.2" fill="none" stroke="#aaaaaa" stroke-width="2.2" stroke-linejoin="round"/>
<polyline points="349.8,689.8 344.6,685.1 339.3,657.4 333.6,642.1 327.8,630.6 321.7,600.1 321.2,566.5 313.2,532.2 307.8,495.0 307.8,485.0 310.8,455.7 308.7,412.1 296.7,366.1 311.7,316.0" fill="none" stroke="#ff3838" stroke-width="2.6" stroke-linejoin="round"/>
<polyline points="319.2,689.8 312.6,685.1 306.8,672.7 289.6,643.1 283.5,629.7 253.2,598.5 187.1,566.1 201.5,532.2 186.2,495.0 136.0,455.7 131.2,412.1 157.0,400.0 224.6,366.1 311.7,316.0 309.3,259.0 297.0,196.5 274.0,125.0 247.6,43.0" fill="none" stroke="#2828f0" stroke-width="2.6" stroke-linejoin="round"/>
</g>
<rect x="64.0" y="43.0" width="527.0" height="646.5" fill="none" stroke="#000" stroke-width="2"/>
<text transform="translate(282.1 409.3) scale(1.180 1)" font-size="12.8" text-anchor="middle" fill="#ff1493">1</text>
<text transform="translate(336.7 409.3) scale(1.180 1)" font-size="12.8" text-anchor="middle" fill="#ff1493">2</text>
<text transform="translate(370.3 409.3) scale(1.180 1)" font-size="12.8" text-anchor="middle" fill="#ff1493">3</text>
<text transform="translate(394.8 409.3) scale(1.180 1)" font-size="12.8" text-anchor="middle" fill="#ff1493">4</text>
<text transform="translate(430.6 409.3) scale(1.180 1)" font-size="12.8" text-anchor="middle" fill="#ff1493">6</text>
<text transform="translate(457.6 409.3) scale(1.180 1)" font-size="12.8" text-anchor="middle" fill="#ff1493">8</text>
<text transform="translate(483.0 409.3) scale(1.061 1)" font-size="12.8" text-anchor="middle" textLength="15.1" lengthAdjust="spacing" fill="#ff1493">10</text>
<text transform="translate(523.1 409.3) scale(1.061 1)" font-size="12.8" text-anchor="middle" textLength="15.1" lengthAdjust="spacing" fill="#ff1493">15</text>
<text transform="translate(552.8 409.3) scale(1.061 1)" font-size="12.8" text-anchor="middle" textLength="15.1" lengthAdjust="spacing" fill="#ff1493">20</text>
<text transform="translate(576.4 409.3) scale(1.061 1)" font-size="12.8" text-anchor="middle" textLength="15.1" lengthAdjust="spacing" fill="#ff1493">25</text>
<rect x="386.2" y="44.5" width="203.8" height="93.5" fill="#fff"/>
<path d="M386.2,44 V138 H591.0" fill="none" stroke="#222" stroke-width="1.3"/>
<line x1="390.3" y1="52.6" x2="409.7" y2="52.6" stroke="#ff3838" stroke-width="2.6" />
<text transform="translate(419.2 57.7) scale(1.180 1)" font-size="14" textLength="88.4" lengthAdjust="spacing" fill="#111">Temperature</text>
<line x1="390.3" y1="65.5" x2="409.7" y2="65.5" stroke="#2828f0" stroke-width="2.6" />
<text transform="translate(419.2 70.6) scale(1.162 1)" font-size="14" textLength="63.8" lengthAdjust="spacing" fill="#111">Dewpoint</text>
<line x1="390.3" y1="78.5" x2="409.7" y2="78.5" stroke="#aaaaaa" stroke-width="2.6" />
<text transform="translate(419.2 83.6) scale(1.180 1)" font-size="14" textLength="122.5" lengthAdjust="spacing" fill="#111">Parcel Trajectory</text>
<line x1="390.3" y1="91.4" x2="409.7" y2="91.4" stroke="#f08228" stroke-width="1.2" />
<text transform="translate(419.2 96.5) scale(1.180 1)" font-size="14" textLength="83.3" lengthAdjust="spacing" fill="#111">Dry Adiabat</text>
<line x1="390.3" y1="104.4" x2="409.7" y2="104.4" stroke="#00dc00" stroke-width="1.2" />
<text transform="translate(419.2 109.5) scale(1.180 1)" font-size="14" textLength="84.6" lengthAdjust="spacing" fill="#111">Wet Adiabat</text>
<line x1="390.3" y1="117.3" x2="409.7" y2="117.3" stroke="#1e9fff" stroke-width="1.2" />
<text transform="translate(419.2 122.4) scale(1.180 1)" font-size="14" textLength="60.9" lengthAdjust="spacing" fill="#111">Isotherm</text>
<line x1="390.3" y1="130.3" x2="409.7" y2="130.3" stroke="#ff1493" stroke-width="1.4" stroke-dasharray="1.4 4.6"/>
<text transform="translate(419.2 135.4) scale(1.180 1)" font-size="14" textLength="87.6" lengthAdjust="spacing" fill="#111">Mixing Ratio</text>
<line x1="587" y1="125.2" x2="591.0" y2="125.2" stroke="#000" stroke-width="1.6"/>
<text transform="translate(54.2 49.1) scale(0.970 1)" font-size="16.3" text-anchor="end" stroke="#000" stroke-width="0.5">300</text>
<text transform="translate(54.2 131.3) scale(0.970 1)" font-size="16.3" text-anchor="end" stroke="#000" stroke-width="0.5">350</text>
<text transform="translate(54.2 202.6) scale(0.970 1)" font-size="16.3" text-anchor="end" stroke="#000" stroke-width="0.5">400</text>
<text transform="translate(54.2 265.4) scale(0.970 1)" font-size="16.3" text-anchor="end" stroke="#000" stroke-width="0.5">450</text>
<text transform="translate(54.2 321.6) scale(0.970 1)" font-size="16.3" text-anchor="end" stroke="#000" stroke-width="0.5">500</text>
<text transform="translate(54.2 372.5) scale(0.970 1)" font-size="16.3" text-anchor="end" stroke="#000" stroke-width="0.5">550</text>
<text transform="translate(54.2 418.9) scale(0.970 1)" font-size="16.3" text-anchor="end" stroke="#000" stroke-width="0.5">600</text>
<text transform="translate(54.2 461.6) scale(0.970 1)" font-size="16.3" text-anchor="end" stroke="#000" stroke-width="0.5">650</text>
<text transform="translate(54.2 501.1) scale(0.970 1)" font-size="16.3" text-anchor="end" stroke="#000" stroke-width="0.5">700</text>
<text transform="translate(54.2 537.9) scale(0.970 1)" font-size="16.3" text-anchor="end" stroke="#000" stroke-width="0.5">750</text>
<text transform="translate(54.2 572.4) scale(0.970 1)" font-size="16.3" text-anchor="end" stroke="#000" stroke-width="0.5">800</text>
<text transform="translate(54.2 604.7) scale(0.970 1)" font-size="16.3" text-anchor="end" stroke="#000" stroke-width="0.5">850</text>
<text transform="translate(54.2 635.2) scale(0.970 1)" font-size="16.3" text-anchor="end" stroke="#000" stroke-width="0.5">900</text>
<text transform="translate(54.2 664.0) scale(0.970 1)" font-size="16.3" text-anchor="end" stroke="#000" stroke-width="0.5">950</text>
<text transform="translate(54.2 691.4) scale(0.970 1)" font-size="16.3" text-anchor="end" stroke="#000" stroke-width="0.5">1000</text>
<text transform="translate(30.0 18.8) scale(1.102 1)" font-size="15" textLength="28.3" lengthAdjust="spacing" fill="#222">hPa</text>
<text transform="translate(92.8 28.8) scale(1.180 1)" font-size="19" textLength="260.3" lengthAdjust="spacing" fill="#111" xml:space="preserve">53°26'N 353°15'W 87m ASL</text>
<text transform="translate(123.1 708.3) scale(1.180 1)" font-size="15" text-anchor="middle" textLength="29.2" lengthAdjust="spacing" fill="#222">−30</text>
<text transform="translate(189.1 708.3) scale(1.180 1)" font-size="15" text-anchor="middle" textLength="29.2" lengthAdjust="spacing" fill="#222">−20</text>
<text transform="translate(255.1 708.3) scale(1.180 1)" font-size="15" text-anchor="middle" textLength="29.2" lengthAdjust="spacing" fill="#222">−10</text>
<text transform="translate(321.1 708.3) scale(1.180 1)" font-size="15" text-anchor="middle" fill="#222">0</text>
<text transform="translate(387.1 708.3) scale(1.180 1)" font-size="15" text-anchor="middle" textLength="17.5" lengthAdjust="spacing" fill="#222">10</text>
<text transform="translate(453.1 708.3) scale(1.180 1)" font-size="15" text-anchor="middle" textLength="17.5" lengthAdjust="spacing" fill="#222">20</text>
<text transform="translate(519.1 708.3) scale(1.180 1)" font-size="15" text-anchor="middle" textLength="17.5" lengthAdjust="spacing" fill="#222">30</text>
<text transform="translate(585.1 708.3) scale(1.180 1)" font-size="15" text-anchor="middle" textLength="17.5" lengthAdjust="spacing" fill="#222">40</text>
<text transform="translate(184.5 727.6) scale(1.180 1)" font-size="19" textLength="268.1" lengthAdjust="spacing" fill="#333">Dewpoint / Temperature (°C)</text>
<text transform="translate(596.8 18.9) scale(1.174 1)" font-size="14.7" textLength="20.4" lengthAdjust="spacing" fill="#222">km</text>
<text transform="translate(596.8 39.9) scale(0.950 1)" font-size="14.7" textLength="29.7" lengthAdjust="spacing" fill="#222">ASL</text>
<line x1="591.0" y1="199" x2="597.5" y2="199" stroke="#666" stroke-width="1"/>
<text transform="translate(606.3 204.2) scale(1.180 1)" font-size="14.5" text-anchor="middle" fill="#333">7</text>
<line x1="591.0" y1="274.1" x2="597.5" y2="274.1" stroke="#666" stroke-width="1"/>
<text transform="translate(606.3 279.3) scale(1.180 1)" font-size="14.5" text-anchor="middle" fill="#333">6</text>
<line x1="591.0" y1="348.5" x2="597.5" y2="348.5" stroke="#666" stroke-width="1"/>
<text transform="translate(606.3 353.7) scale(1.180 1)" font-size="14.5" text-anchor="middle" fill="#333">5</text>
<line x1="591.0" y1="419.1" x2="597.5" y2="419.1" stroke="#666" stroke-width="1"/>
<text transform="translate(606.3 424.3) scale(1.180 1)" font-size="14.5" text-anchor="middle" fill="#333">4</text>
<line x1="591.0" y1="491" x2="597.5" y2="491" stroke="#666" stroke-width="1"/>
<text transform="translate(606.3 496.2) scale(1.180 1)" font-size="14.5" text-anchor="middle" fill="#333">3</text>
<line x1="591.0" y1="560.4" x2="597.5" y2="560.4" stroke="#666" stroke-width="1"/>
<text transform="translate(606.3 565.6) scale(1.180 1)" font-size="14.5" text-anchor="middle" fill="#333">2</text>
<line x1="591.0" y1="628.3" x2="597.5" y2="628.3" stroke="#666" stroke-width="1"/>
<text transform="translate(606.3 633.5) scale(1.180 1)" font-size="14.5" text-anchor="middle" fill="#333">1</text>
<line x1="591.0" y1="650.4" x2="599.6" y2="650.4" stroke="#666" stroke-width="1"/>
<text transform="translate(619.5 656.0) scale(0.929 1)" font-size="14.5" textLength="26.9" lengthAdjust="spacing" fill="#d4d4d4">CIN</text>
<text transform="translate(609.8 656.0) scale(1.004 1)" font-size="14.5" textLength="28.4" lengthAdjust="spacing" fill="#444">LCL</text>
<g transform="translate(630,548) rotate(-90)">
<text transform="translate(0.0 0.0) scale(1.100 1)" font-size="15" textLength="219.1" lengthAdjust="spacing" fill="#ffbcdc">Mixing Ratio (g/kg)</text>
</g>
<g transform="translate(629.5,507) rotate(-90)">
<text transform="translate(0.0 0.0) scale(1.180 1)" font-size="15" textLength="144.9" lengthAdjust="spacing" fill="#222">Mixing Ratio (g/kg)</text>
</g>
<line x1="681.8" y1="43" x2="681.8" y2="686" stroke="#555" stroke-width="1.8"/>
<line x1="681.8" y1="42.9" x2="658.3" y2="22.4" stroke="#ff3838" stroke-width="1.3"/>
<rect x="679.8" y="40.9" width="4" height="4" fill="#ff3838"/>
<line x1="676.5" y1="38.3" x2="680.3" y2="34.2" stroke="#ff3838" stroke-width="1.3"/>
<line x1="673.3" y1="35.5" x2="680.1" y2="28.1" stroke="#ff3838" stroke-width="1.3"/>
<line x1="669.8" y1="32.4" x2="678.2" y2="23.3" stroke="#ff3838" stroke-width="1.3"/>
<line x1="666.5" y1="29.6" x2="674.7" y2="20.7" stroke="#ff3838" stroke-width="1.3"/>
<line x1="663.0" y1="26.5" x2="670.5" y2="18.4" stroke="#ff3838" stroke-width="1.3"/>
<polygon points="658.3,22.4 661.6,25.3 663.6,16.7" fill="#ff3838" stroke="#ff3838" stroke-width="1" stroke-linejoin="round"/>
<line x1="658.3" y1="22.4" x2="666.1" y2="14.0" stroke="#ff3838" stroke-width="1.3"/>
<line x1="681.8" y1="196.5" x2="655.2" y2="175.3" stroke="#ff3838" stroke-width="1.3"/>
<rect x="679.8" y="194.5" width="4" height="4" fill="#ff3838"/>
<line x1="666.1" y1="184.0" x2="674.6" y2="173.7" stroke="#ff3838" stroke-width="1.3"/>
<line x1="662.2" y1="180.9" x2="670.8" y2="170.7" stroke="#ff3838" stroke-width="1.3"/>
<polygon points="655.2,175.3 658.9,178.2 660.4,169.0" fill="#ff3838" stroke="#ff3838" stroke-width="1" stroke-linejoin="round"/>
<line x1="655.2" y1="175.3" x2="662.9" y2="166.1" stroke="#ff3838" stroke-width="1.3"/>
<line x1="681.8" y1="315.8" x2="654.5" y2="299.2" stroke="#7a00e6" stroke-width="1.3"/>
<rect x="679.8" y="313.8" width="4" height="4" fill="#7a00e6"/>
<line x1="666.7" y1="306.6" x2="674.2" y2="295.4" stroke="#7a00e6" stroke-width="1.3"/>
<line x1="662.7" y1="304.2" x2="670.2" y2="292.9" stroke="#7a00e6" stroke-width="1.3"/>
<line x1="658.6" y1="301.7" x2="666.1" y2="290.4" stroke="#7a00e6" stroke-width="1.3"/>
<line x1="654.5" y1="299.2" x2="662.0" y2="288.0" stroke="#7a00e6" stroke-width="1.3"/>
<line x1="681.8" y1="494.7" x2="660.4" y2="471.9" stroke="#e8d832" stroke-width="1.3"/>
<rect x="679.8" y="492.7" width="4" height="4" fill="#e8d832"/>
<line x1="663.8" y1="475.6" x2="668.7" y2="471.4" stroke="#e8d832" stroke-width="1.3"/>
<line x1="681.8" y1="598.8" x2="687.2" y2="628.5" stroke="#e8d832" stroke-width="1.3"/>
<rect x="679.8" y="596.8" width="4" height="4" fill="#e8d832"/>
<line x1="686.3" y1="624.4" x2="679" y2="625.4" stroke="#e8d832" stroke-width="1.3"/>
<line x1="681.8" y1="629.6" x2="678.2" y2="659.5" stroke="#e8d832" stroke-width="1.3"/>
<rect x="679.8" y="627.6" width="4" height="4" fill="#e8d832"/>
<line x1="677.7" y1="654.6" x2="672" y2="654.3" stroke="#e8d832" stroke-width="1.3"/>
<line x1="681.8" y1="643.9" x2="670.4" y2="672.6" stroke="#e8d832" stroke-width="1.3"/>
<rect x="679.8" y="641.9" width="4" height="4" fill="#e8d832"/>
<line x1="671.6" y1="667.8" x2="666.1" y2="665.9" stroke="#e8d832" stroke-width="1.3"/>
<line x1="681.8" y1="685.6" x2="657.3" y2="704.4" stroke="#e8d832" stroke-width="1.3"/>
<rect x="679.8" y="683.6" width="4" height="4" fill="#e8d832"/>
<line x1="660.6" y1="701.5" x2="656.5" y2="697.4" stroke="#e8d832" stroke-width="1.3"/>
<line x1="681.8" y1="690.1" x2="657.3" y2="709.3" stroke="#e8d832" stroke-width="1.3"/>
<rect x="679.8" y="688.1" width="4" height="4" fill="#e8d832"/>
<line x1="660.6" y1="706" x2="656.5" y2="701.5" stroke="#e8d832" stroke-width="1.3"/>
<text transform="translate(933.0 29.4) scale(1.180 1)" font-size="20" textLength="46.6" lengthAdjust="spacing" fill="#d8d8d8" xml:space="preserve">: 12)</text>
<text transform="translate(653.5 29.4) scale(1.120 1)" font-size="20" textLength="290.7" lengthAdjust="spacing" fill="#111" stroke="#111" stroke-width="0.25" xml:space="preserve">14.02.2026 18GMT (Base: 12)</text>
<defs><clipPath id="hc"><rect x="727.3" y="43" width="182.6" height="172.6"/></clipPath></defs>
<g clip-path="url(#hc)">
<ellipse cx="818.6" cy="129.2" rx="30.4" ry="28.8" fill="none" stroke="#aaa" stroke-width="1"/>
<ellipse cx="818.6" cy="129.2" rx="60.8" ry="57.6" fill="none" stroke="#aaa" stroke-width="1"/>
<ellipse cx="818.6" cy="129.2" rx="91.2" ry="86.4" fill="none" stroke="#aaa" stroke-width="1"/>
</g>
<line x1="727.3" y1="129.2" x2="909.9" y2="129.2" stroke="#111" stroke-width="1.3"/>
<line x1="818.6" y1="43" x2="818.6" y2="215.6" stroke="#111" stroke-width="1.3"/>
<path d="M735.0,126.9V131.5M816.3,50.0H820.9M742.6,126.9V131.5M816.3,57.2H820.9M750.2,126.9V131.5M816.3,64.4H820.9M757.8,126.9V131.5M816.3,71.6H820.9M765.4,126.9V131.5M816.3,78.8H820.9M773.0,126.9V131.5M816.3,86.0H820.9M780.6,126.9V131.5M816.3,93.2H820.9M788.2,126.9V131.5M816.3,100.4H820.9M795.8,126.9V131.5M816.3,107.6H820.9M803.4,126.9V131.5M816.3,114.8H820.9M811.0,126.9V131.5M816.3,122.0H820.9M826.2,126.9V131.5M816.3,136.4H820.9M833.8,126.9V131.5M816.3,143.6H820.9M841.4,126.9V131.5M816.3,150.8H820.9M849.0,126.9V131.5M816.3,158.0H820.9M856.6,126.9V131.5M816.3,165.2H820.9M864.2,126.9V131.5M816.3,172.4H820.9M871.8,126.9V131.5M816.3,179.6H820.9M879.4,126.9V131.5M816.3,186.8H820.9M887.0,126.9V131.5M816.3,194.0H820.9M894.6,126.9V131.5M816.3,201.2H820.9M902.2,126.9V131.5M816.3,208.4H820.9" stroke="#111" stroke-width="1.1" fill="none"/>
<rect x="727.3" y="43" width="182.6" height="172.6" fill="none" stroke="#000" stroke-width="1.8"/>
<text transform="translate(732.5 56.7) scale(1.147 1)" font-size="13" textLength="10.9" lengthAdjust="spacing" fill="#222">kt</text>
<g transform="translate(797.4,148.9) rotate(-45)">
<text transform="translate(0.0 4.6) scale(1.114 1)" font-size="13" text-anchor="middle" textLength="15.3" lengthAdjust="spacing" fill="#a8a8a8">40</text>
</g>
<g transform="translate(775.9,170.3) rotate(-45)">
<text transform="translate(0.0 4.6) scale(1.114 1)" font-size="13" text-anchor="middle" textLength="15.3" lengthAdjust="spacing" fill="#a8a8a8">80</text>
</g>
<g transform="translate(754.4,190.4) rotate(-45)">
<text transform="translate(0.0 4.6) scale(1.116 1)" font-size="13" text-anchor="middle" textLength="23.3" lengthAdjust="spacing" fill="#a8a8a8">120</text>
</g>
<polyline points="818.6,129.2 843.5,144.2 859.3,161.9" fill="none" stroke="#111" stroke-width="1.5"/>
<circle cx="859.3" cy="161.9" r="2.2" fill="#111"/>
<polygon points="818.7,136.3 825.2,133.6 824,142" fill="#111" stroke="#111" stroke-width="1" stroke-linejoin="round"/>
<polygon points="818.0,128.8 819.2,125.2 824.6,124.9 823.2,128.2" fill="#111" stroke="#111" stroke-width="1" stroke-linejoin="round"/>
<rect x="727.3" y="232.6" width="200" height="470.3" fill="none" stroke="#222" stroke-width="1.4"/>
<line x1="727.3" y1="302.2" x2="927.3" y2="302.2" stroke="#222" stroke-width="1.4"/>
<line x1="727.3" y1="456.6" x2="927.3" y2="456.6" stroke="#222" stroke-width="1.4"/>
<line x1="727.3" y1="590.9" x2="927.3" y2="590.9" stroke="#222" stroke-width="1.4"/>
<text transform="translate(732.4 251.4) scale(1.180 1)" font-size="14.6" fill="#222">K</text>
<text transform="translate(874.0 251.4) scale(1.180 1)" font-size="14.6" textLength="29.7" lengthAdjust="spacing" fill="#222">−16</text>
<text transform="translate(732.4 272.9) scale(1.180 1)" font-size="14.6" textLength="95.3" lengthAdjust="spacing" fill="#222">Totals Totals</text>
<text transform="translate(874.0 272.9) scale(1.180 1)" font-size="14.6" textLength="17.2" lengthAdjust="spacing" fill="#222">25</text>
<text transform="translate(732.4 294.4) scale(1.180 1)" font-size="14.6" textLength="65.8" lengthAdjust="spacing" fill="#222">PW (cm)</text>
<text transform="translate(874.0 294.4) scale(1.180 1)" font-size="14.6" textLength="31.7" lengthAdjust="spacing" fill="#222">0.59</text>
<text transform="translate(732.4 342.0) scale(1.180 1)" font-size="14.6" textLength="77.1" lengthAdjust="spacing" fill="#222">Temp (°C)</text>
<text transform="translate(874.0 342.0) scale(1.180 1)" font-size="14.6" textLength="22.1" lengthAdjust="spacing" fill="#222">3.7</text>
<text transform="translate(732.4 363.5) scale(1.180 1)" font-size="14.6" textLength="75.9" lengthAdjust="spacing" fill="#222">Dewp (°C)</text>
<text transform="translate(874.0 363.5) scale(1.180 1)" font-size="14.6" textLength="18.6" lengthAdjust="spacing" fill="#222">−1</text>
<text transform="translate(732.6 385.3) scale(1.250 1)" font-size="14.6" fill="#111" font-weight="bold" font-style="italic">θ</text>
<text transform="translate(742.4 387.5) scale(1.100 1)" font-size="8" fill="#111" font-weight="bold">E</text>
<text transform="translate(748.8 385.3) scale(1.166 1)" font-size="14.6" textLength="21.0" lengthAdjust="spacing" fill="#222">(K)</text>
<text transform="translate(874.0 385.3) scale(1.180 1)" font-size="14.6" textLength="26.8" lengthAdjust="spacing" fill="#222">286</text>
<text transform="translate(732.4 406.8) scale(1.180 1)" font-size="14.6" textLength="88.1" lengthAdjust="spacing" fill="#222">Lifted Index</text>
<text transform="translate(873.3 406.8) scale(1.180 1)" font-size="14.6" textLength="17.8" lengthAdjust="spacing" fill="#222">16</text>
<text transform="translate(732.4 428.3) scale(1.180 1)" font-size="14.6" textLength="66.4" lengthAdjust="spacing" fill="#222">CAPE (J)</text>
<text transform="translate(874.0 428.3) scale(1.180 1)" font-size="14.6" fill="#222">0</text>
<text transform="translate(732.4 449.8) scale(1.180 1)" font-size="14.6" textLength="52.9" lengthAdjust="spacing" fill="#222">CIN (J)</text>
<text transform="translate(874.0 449.8) scale(1.180 1)" font-size="14.6" fill="#222">0</text>
<text transform="translate(732.4 496.3) scale(1.180 1)" font-size="14.6" textLength="109.3" lengthAdjust="spacing" fill="#222">Pressure (mb)</text>
<text transform="translate(874.0 496.3) scale(1.180 1)" font-size="14.6" textLength="36.4" lengthAdjust="spacing" fill="#222">1008</text>
<text transform="translate(732.6 518.0) scale(1.250 1)" font-size="14.6" fill="#111" font-weight="bold" font-style="italic">θ</text>
<text transform="translate(742.4 520.2) scale(1.100 1)" font-size="8" fill="#111" font-weight="bold">E</text>
<text transform="translate(757.9 518.0) scale(1.180 1)" font-size="14.6" textLength="21.9" lengthAdjust="spacing" fill="#222">(K)</text>
<text transform="translate(874.0 518.0) scale(1.180 1)" font-size="14.6" textLength="26.9" lengthAdjust="spacing" fill="#222">286</text>
<text transform="translate(732.4 539.6) scale(1.180 1)" font-size="14.6" textLength="87.7" lengthAdjust="spacing" fill="#222">Lifted Index</text>
<text transform="translate(873.3 539.6) scale(1.180 1)" font-size="14.6" textLength="17.7" lengthAdjust="spacing" fill="#222">16</text>
<text transform="translate(732.4 561.2) scale(1.180 1)" font-size="14.6" textLength="66.4" lengthAdjust="spacing" fill="#222">CAPE (J)</text>
<text transform="translate(874.0 561.2) scale(1.180 1)" font-size="14.6" fill="#222">0</text>
<text transform="translate(732.4 582.4) scale(1.180 1)" font-size="14.6" textLength="52.7" lengthAdjust="spacing" fill="#222">CIN (J)</text>
<text transform="translate(874.0 582.4) scale(1.180 1)" font-size="14.6" fill="#222">0</text>
<text transform="translate(732.4 630.3) scale(1.021 1)" font-size="14.6" textLength="21.2" lengthAdjust="spacing" fill="#222">EH</text>
<text transform="translate(874.0 630.3) scale(1.180 1)" font-size="14.6" textLength="20.3" lengthAdjust="spacing" fill="#222">−4</text>
<text transform="translate(732.4 651.9) scale(1.038 1)" font-size="14.6" textLength="43.2" lengthAdjust="spacing" fill="#222">SREH</text>
<text transform="translate(874.0 651.9) scale(1.180 1)" font-size="14.6" textLength="29.2" lengthAdjust="spacing" fill="#222">−29</text>
<text transform="translate(732.4 673.6) scale(1.180 1)" font-size="14.6" textLength="48.8" lengthAdjust="spacing" fill="#222">StmDir</text>
<text transform="translate(874.0 673.6) scale(1.180 1)" font-size="14.6" textLength="34.2" lengthAdjust="spacing" fill="#222">336°</text>
<text transform="translate(732.4 695.6) scale(1.180 1)" font-size="14.6" textLength="91.9" lengthAdjust="spacing" fill="#222">StmSpd (kt)</text>
<text transform="translate(873.3 695.6) scale(1.180 1)" font-size="14.6" textLength="17.7" lengthAdjust="spacing" fill="#222">18</text>
<text transform="translate(786.9 320.6) scale(1.180 1)" font-size="14.6" textLength="56.4" lengthAdjust="spacing" fill="#222">Surface</text>
<text transform="translate(752.9 475.1) scale(1.180 1)" font-size="14.6" textLength="106.7" lengthAdjust="spacing" fill="#222">Most Unstable</text>
<text transform="translate(771.4 609.5) scale(1.180 1)" font-size="14.6" textLength="79.6" lengthAdjust="spacing" fill="#222">Hodograph</text>
<text transform="translate(735.5 726.3) scale(1.180 1)" font-size="18" textLength="133.1" lengthAdjust="spacing" fill="#cfcfcf" stroke="#cfcfcf" stroke-width="0.3">Weatheronline</text>
<text transform="translate(715.4 727.3) scale(1.180 1)" font-size="19.5" fill="#111">©</text>
<text transform="translate(737.5 726.8) scale(1.180 1)" font-size="18" textLength="180.9" lengthAdjust="spacing" fill="#111" stroke="#111" stroke-width="0.3">weatheronline.co.uk</text>
</svg>
</body></html>
